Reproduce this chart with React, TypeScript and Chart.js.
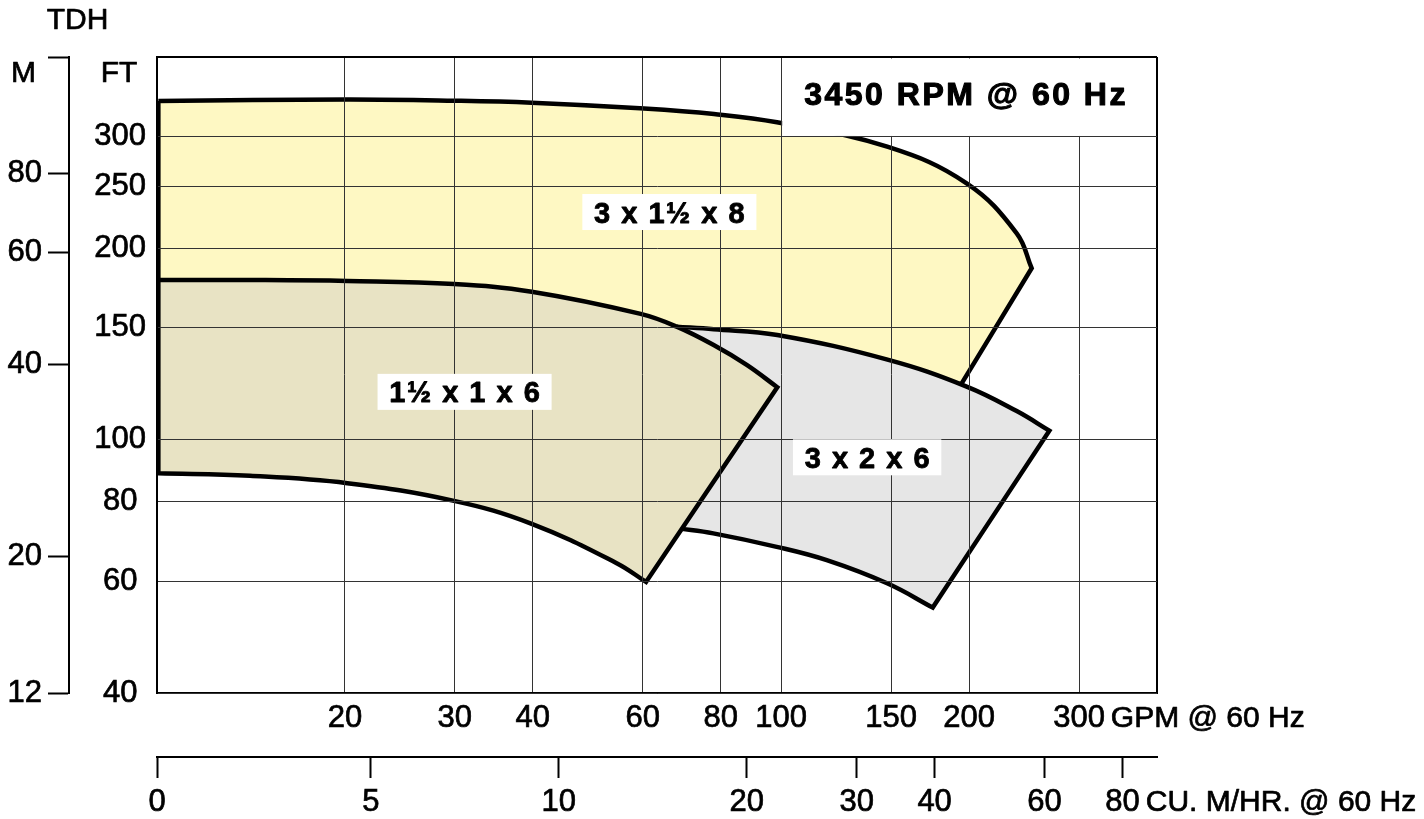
import React, { useEffect, useRef } from 'react';
import { Chart, registerables } from 'chart.js';

Chart.register(...registerables);

// ---------- axis data ----------
const GPM_RANGE = [10, 400];
const FT_RANGE = [40, 400];
const GPM_TICKS = [20, 30, 40, 60, 80, 100, 150, 200, 300];
const FT_TICKS = [40, 60, 80, 100, 150, 200, 250, 300];
const M_TICKS = [12, 20, 40, 60, 80];
const CMH_TICKS = [0, 5, 10, 20, 30, 40, 60, 80];
const M_PER_FT = 0.3048;
const GPM_PER_CMH = 4.40287;

const TITLE = '3450 RPM @ 60 Hz';
const X_UNIT = 'GPM @ 60 Hz';
const X2_UNIT = 'CU. M/HR. @ 60 Hz';
const HEAD_TDH = 'TDH';
const HEAD_M = 'M';
const HEAD_FT = 'FT';

// ---------- series: boundary edges, [GPM, FT] ----------
// 3 x 1½ x 8
const P3x15x8_TOP = [[10.05, 341.1], [20.18, 343], [29.91, 341.5], [39.84, 339], [59.4, 332.2], [78.04, 325.4], [98.46, 315.8], [148.3, 288.8], [198.2, 253.2], [238.4, 211.3], [251.9, 186.2]];
const P3x15x8_RIGHT = [[251.9, 186.2], [194.6, 122.7]];
const P3x15x8_BOTTOM = [[194.6, 122.7], [128.9, 107.5], [74.1, 107.5], [10.05, 107.5]];
const P3x15x8_LEFT = [[10.05, 107.5], [10.05, 341.1]];

// 1½ x 1 x 6
const P15x1x6_TOP = [[10.05, 178.4], [14.09, 178.4], [20.18, 177.8], [29.91, 175.9], [39.84, 171], [59.55, 157.8], [68, 150.7], [77.95, 141], [88.06, 131.2], [98.57, 121]];
const P15x1x6_RIGHT = [[98.57, 121], [60.74, 59.8]];
const P15x1x6_BOTTOM = [[60.74, 59.8], [54.5, 64], [39.84, 73.8], [29.91, 80.2], [20.18, 85.5], [14.09, 87.8], [10.05, 88.6]];
const P15x1x6_LEFT = [[10.05, 88.6], [10.05, 178.4]];

// 3 x 2 x 6
const P3x2x6_TOP = [[68, 150.7], [77.95, 149.3], [98.57, 146.2], [148.5, 133.6], [198.2, 121.3], [238.4, 111], [268.9, 103.4]];
const P3x2x6_RIGHT = [[268.9, 103.4], [174.9, 54.5]];
const P3x2x6_BOTTOM = [[174.9, 54.5], [148.1, 59.45], [118.3, 64.7], [98.35, 67.9], [77.84, 71.3], [68.35, 72.6]];
const P3x2x6_LEFT = [[68.35, 72.6], [61.7, 96.4], [63.9, 143.6], [68, 150.7]];

const SERIES_NAMES = ['1½ x 1 x 6', '3 x 2 x 6', '3 x 1½ x 8'];
const SERIES_EDGES = [
  [P15x1x6_TOP, P15x1x6_RIGHT, P15x1x6_BOTTOM, P15x1x6_LEFT],
  [P3x2x6_TOP, P3x2x6_RIGHT, P3x2x6_BOTTOM, P3x2x6_LEFT],
  [P3x15x8_TOP, P3x15x8_RIGHT, P3x15x8_BOTTOM, P3x15x8_LEFT],
];

// ---------- styles / positions ----------
const FONT = '"Liberation Sans", Arial, Helvetica, sans-serif';
const SERIES_COLORS = ['#E8E3C4', '#E6E6E6', '#FEF8C3'];
const LABEL_POS = [[31.1, 119], [137.3, 93.9], [66.2, 228.2]];
const TICK_SIZE = 31;
const UNIT_SIZE = 30;

const decorPlugin = {
  id: 'decor',
  afterDraw(chart: any) {
    const ctx = chart.ctx;
    const area = chart.chartArea;
    const xs = chart.scales.x;
    const ys = chart.scales.y;
    const x2 = chart.scales.x2;
    const y2 = chart.scales.y2;
    ctx.save();
    ctx.strokeStyle = '#000';
    ctx.lineJoin = 'round';

    // title box (grid cell 100-400 GPM, 300-400 FT)
    const bl = xs.getPixelForValue(100);
    const bb = ys.getPixelForValue(300);
    ctx.fillStyle = '#fff';
    ctx.fillRect(bl + 1, area.top + 1.5, area.right - bl - 2.5, bb - area.top - 2);
    ctx.fillStyle = '#000';
    ctx.font = `bold 32px ${FONT}`;
    (ctx as any).letterSpacing = '2.5px';
    ctx.textAlign = 'center';
    ctx.textBaseline = 'alphabetic';
    ctx.lineWidth = 1.1;
    const tx = (bl + area.right) / 2 - 3;
    ctx.fillText(TITLE, tx, area.top + 48);
    ctx.strokeText(TITLE, tx, area.top + 48);

    // region labels
    ctx.font = `bold 29px ${FONT}`;
    (ctx as any).letterSpacing = '1.5px';
    ctx.lineWidth = 0.8;
    SERIES_NAMES.forEach((t, i) => {
      const cx = xs.getPixelForValue(LABEL_POS[i][0]);
      const cy = ys.getPixelForValue(LABEL_POS[i][1]);
      const w = ctx.measureText(t).width + 22;
      const h = 36;
      ctx.fillStyle = '#fff';
      ctx.fillRect(cx - w / 2, cy - h / 2, w, h);
      ctx.fillStyle = '#000';
      ctx.fillText(t, cx + 0.75, cy + 10.5);
      ctx.strokeText(t, cx + 0.75, cy + 10.5);
    });

    // unit texts after last tick labels
    (ctx as any).letterSpacing = '0px';
    ctx.textAlign = 'left';
    ctx.textBaseline = 'middle';
    ctx.lineWidth = 0.7;
    const lh = TICK_SIZE * 1.2;
    ctx.font = `${TICK_SIZE}px ${FONT}`;
    const lastG = GPM_TICKS[GPM_TICKS.length - 1];
    const gx = xs.getPixelForValue(lastG) + ctx.measureText(String(lastG)).width / 2 + 6;
    const lastC = CMH_TICKS[CMH_TICKS.length - 1];
    const cxp = x2.getPixelForValue(lastC) + ctx.measureText(String(lastC)).width / 2 + 6;
    ctx.font = `${UNIT_SIZE}px ${FONT}`;
    const gy = xs.top + 7 + lh / 2;
    const cy2 = x2.top + 21 + 6 + lh / 2;
    ctx.fillText(X_UNIT, gx, gy);
    ctx.strokeText(X_UNIT, gx, gy);
    ctx.fillText(X2_UNIT, cxp, cy2);
    ctx.strokeText(X2_UNIT, cxp, cy2);

    // headers
    ctx.font = `30px ${FONT}`;
    ctx.textAlign = 'center';
    const heads = [
      [HEAD_TDH, y2.right + 8.5, area.top - 36],
      [HEAD_M, y2.right - 45.5, area.top + 17],
      [HEAD_FT, area.left - 38, area.top + 17],
    ];
    heads.forEach(([t, x, y]: any) => {
      ctx.fillText(t, x, y);
      ctx.strokeText(t, x, y);
    });
    ctx.restore();
  },
};

const gridColor = (c: any, max: number) => (c.tick && c.tick.value === max ? '#000' : '#333');
const gridWidth = (c: any, max: number) => (c.tick && c.tick.value === max ? 2 : 1);

export default function App() {
  const ref = useRef<HTMLCanvasElement>(null);
  useEffect(() => {
    const tickFont = { family: FONT, size: TICK_SIZE };
    const tickText = { color: '#000', font: tickFont, textStrokeColor: '#000', textStrokeWidth: 0.7, autoSkip: false };
    const datasets = SERIES_EDGES.map((edges, i) => ({
      label: SERIES_NAMES[i],
      data: (edges as number[][][]).flat().map(([x, y]) => ({ x, y })),
      showLine: true,
      fill: 'shape',
      backgroundColor: SERIES_COLORS[i],
      borderColor: '#000',
      borderWidth: 4.5,
      borderJoinStyle: 'miter',
      tension: 0.4,
      pointRadius: 0,
      pointHoverRadius: 0,
      order: i,
    }));
    const chart = new Chart(ref.current as HTMLCanvasElement, {
      type: 'scatter',
      data: { datasets } as any,
      plugins: [decorPlugin],
      options: {
        animation: false,
        responsive: true,
        maintainAspectRatio: false,
        events: [],
        layout: { padding: { top: 57, right: 267, bottom: 0, left: 0 } },
        plugins: { legend: { display: false }, tooltip: { enabled: false }, title: { display: false } },
        scales: {
          x: {
            type: 'logarithmic',
            position: 'bottom',
            min: GPM_RANGE[0],
            max: GPM_RANGE[1],
            weight: 0,
            afterBuildTicks: (s: any) => {
              s.ticks = [...GPM_TICKS, GPM_RANGE[1]].map((v) => ({ value: v }));
            },
            afterFit: (s: any) => {
              s.height = 64;
            },
            ticks: {
              ...tickText,
              maxRotation: 0,
              minRotation: 0,
              padding: 7,
              callback: (v: any) => (GPM_TICKS.includes(v) ? String(v) : ''),
            },
            grid: {
              z: 1,
              drawTicks: false,
              color: (c: any) => gridColor(c, GPM_RANGE[1]),
              lineWidth: (c: any) => gridWidth(c, GPM_RANGE[1]),
            },
            border: { z: 1, display: true, color: '#000', width: 2 },
          },
          x2: {
            type: 'logarithmic',
            position: 'bottom',
            min: GPM_RANGE[0] / GPM_PER_CMH,
            max: GPM_RANGE[1] / GPM_PER_CMH,
            weight: 1,
            afterBuildTicks: (s: any) => {
              s.ticks = CMH_TICKS.map((v) => ({ value: Math.max(v, s.min) }));
            },
            afterFit: (s: any) => {
              s.height = 62;
            },
            ticks: {
              ...tickText,
              maxRotation: 0,
              minRotation: 0,
              padding: 6,
              callback: (_v: any, i: number) => String(CMH_TICKS[i]),
            },
            grid: { drawOnChartArea: false, drawTicks: true, tickLength: 21, tickWidth: 2, tickColor: '#000' },
            border: { display: true, color: '#000', width: 2 },
          },
          y: {
            type: 'logarithmic',
            position: 'left',
            min: FT_RANGE[0],
            max: FT_RANGE[1],
            weight: 0,
            afterBuildTicks: (s: any) => {
              s.ticks = [...FT_TICKS, FT_RANGE[1]].map((v) => ({ value: v }));
            },
            afterFit: (s: any) => {
              s.width = 88;
            },
            ticks: {
              ...tickText,
              crossAlign: 'center',
              padding: 11,
              callback: (v: any) => (FT_TICKS.includes(v) ? String(v) : ''),
            },
            grid: {
              z: 1,
              drawTicks: false,
              color: (c: any) => gridColor(c, FT_RANGE[1]),
              lineWidth: (c: any) => gridWidth(c, FT_RANGE[1]),
            },
            border: { z: 1, display: true, color: '#000', width: 2 },
          },
          y2: {
            type: 'logarithmic',
            position: 'left',
            min: FT_RANGE[0] * M_PER_FT,
            max: FT_RANGE[1] * M_PER_FT,
            weight: 1,
            afterBuildTicks: (s: any) => {
              s.ticks = [...M_TICKS.map((v) => Math.max(v, s.min)), s.max].map((v) => ({ value: v }));
            },
            afterFit: (s: any) => {
              s.width = 69;
            },
            ticks: {
              ...tickText,
              crossAlign: 'near',
              padding: 6,
              callback: (_v: any, i: number) => (i < M_TICKS.length ? String(M_TICKS[i]) : ''),
            },
            grid: { drawOnChartArea: false, drawTicks: true, tickLength: 21, tickWidth: 2, tickColor: '#000' },
            border: { display: true, color: '#000', width: 2 },
          },
        },
      } as any,
    });
    return () => chart.destroy();
  }, []);
  return (
    <div style={{ position: 'fixed', left: 0, top: 0, width: 1424, height: 819, background: '#fff' }}>
      <canvas ref={ref} />
    </div>
  );
}
